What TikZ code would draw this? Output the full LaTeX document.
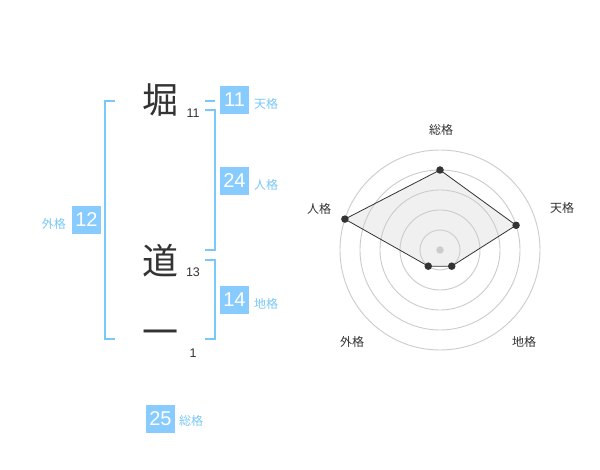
\documentclass[tikz,border=0pt]{standalone}
\usepackage{fontspec}
\setmainfont{Liberation Sans}
\newfontfamily\jpfont{Noto Sans CJK JP}
\usetikzlibrary{calc}
\definecolor{kakublue}{RGB}{122,200,248}
\definecolor{boxblue}{RGB}{136,204,255}
\definecolor{inkgray}{RGB}{51,51,51}
\definecolor{ringgray}{RGB}{204,204,204}
\definecolor{areagray}{RGB}{240,240,240}
\tikzset{name node/.style={inner sep=0pt,text=inkgray,font=\jpfont\fontsize{36}{36}\selectfont},
  count node/.style={inner sep=0pt,text=inkgray,font=\fontsize{12.5}{12.5}\selectfont},
  box node/.style={fill=boxblue,text=white,minimum width=29pt,minimum height=28pt,inner sep=0pt,font=\fontsize{20}{20}\selectfont},
  kaku node/.style={inner sep=0pt,text=kakublue,font=\jpfont\fontsize{12}{12}\selectfont},
  axis node/.style={inner sep=0pt,text=inkgray,font=\jpfont\fontsize{12}{12}\selectfont},
  dot node/.style={circle,fill=inkgray,minimum size=7.5pt,inner sep=0pt},
  bracket/.style={draw=kakublue,line width=1.6pt},}

\begin{document}
\begin{tikzpicture}[x=1pt,y=-1pt]
      \fill[white] (0,0) rectangle (600,470);
      \useasboundingbox (0,0) rectangle (600,470);

      % name and stroke counts
      \node[name node] (hori) at (160,100) {堀};
      \node[name node] (michi) at (160,261) {道};
      \node[name node] (ichi) at (160,338) {一};
      \node[count node] (hori-n) at (193,113) {11};
      \node[count node] (michi-n) at (193,272) {13};
      \node[count node] (ichi-n) at (193,353) {1};

      % brackets
      \draw[bracket] (115,101) -- (105,101) -- (105,339) -- (115,339);
      \draw[bracket] (205,101) -- (215,101);
      \draw[bracket] (205,110) -- (215,110) -- (215,250) -- (205,250);
      \draw[bracket] (205,260) -- (215,260) -- (215,339) -- (205,339);

      % scores
      \node[box node] (ten) at (234.5,100) {11};
      \node[box node] (jin) at (234.5,181) {24};
      \node[box node] (chi) at (234.5,300) {14};
      \node[box node] (gai) at (86.5,220) {12};
      \node[box node] (so) at (160.5,419) {25};
      \node[kaku node,anchor=west] (ten-l) at (254,104) {天格};
      \node[kaku node,anchor=west] (jin-l) at (254,185) {人格};
      \node[kaku node,anchor=west] (chi-l) at (254,304) {地格};
      \node[kaku node,anchor=east] (gai-l) at (66,224) {外格};
      \node[kaku node,anchor=west] (so-l) at (179,421) {総格};

      % radar
      \coordinate (c) at (440,250);
      \coordinate (p-so) at ($(c)+(90:80pt)$);
      \coordinate (p-ten) at ($(c)+(18:80pt)$);
      \coordinate (p-chi) at ($(c)+(-54:20pt)$);
      \coordinate (p-gai) at ($(c)+(-126:20pt)$);
      \coordinate (p-jin) at ($(c)+(162:100pt)$);
      \fill[areagray] (p-so) -- (p-ten) -- (p-chi) -- (p-gai) -- (p-jin) -- cycle;
      \foreach \r in {20,40,...,100}
        \draw[ringgray,line width=0.9pt] (c) circle (\r pt);
      \node[circle,fill=ringgray,minimum size=7.5pt,inner sep=0pt] (mid) at (c) {};
      \draw[inkgray,line width=0.8pt]
        (p-so) -- (p-ten) -- (p-chi) -- (p-gai) -- (p-jin) -- cycle;
      \foreach \p in {so,ten,chi,gai,jin}
        \node[dot node] (dot-\p) at (p-\p) {};

      \node[axis node] (so-a) at (441,130) {総格};
      \node[axis node] (ten-a) at (562,208) {天格};
      \node[axis node] (jin-a) at (319,209) {人格};
      \node[axis node] (gai-a) at (352,342) {外格};
      \node[axis node] (chi-a) at (524,342) {地格};

    \end{tikzpicture}
\end{document}
